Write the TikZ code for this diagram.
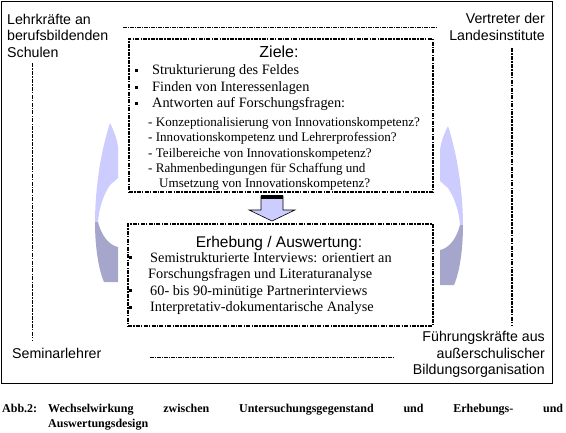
\documentclass[tikz,border=0pt]{standalone}
\usepackage{fontspec}
\setmainfont{Liberation Serif}
\newfontfamily\arialf{Liberation Sans}
\definecolor{lightarrow}{RGB}{204,204,255}
\definecolor{darkarrow}{RGB}{166,166,204}
\tikzset{
 lbl/.style={inner sep=0pt, font=\arialf\fontsize{14.2}{16}\selectfont},
 ttl/.style={inner sep=0pt, anchor=base, font=\arialf\fontsize{16}{18}\selectfont},
 itm/.style={inner sep=0pt, anchor=base west, font=\fontsize{14.3}{16}\selectfont},
 subitm/.style={inner sep=0pt, anchor=base west, font=\fontsize{13.1}{15}\selectfont},
 captxt/.style={inner sep=0pt, anchor=base west, font=\bfseries\fontsize{12}{14}\selectfont},
 ddbox/.style={draw, line width=1.6pt, dash pattern=on 4pt off 1.2pt on 1.5pt off 1.2pt, inner sep=0pt, anchor=north west},
 ddvline/.style={line width=1.6pt, dash pattern=on 4pt off 1.2pt on 1.5pt off 1.2pt},
 thinline/.style={line width=0.8pt, dash pattern=on 4pt off 1pt on 1pt off 1pt},
 bul/.style={fill=black, inner sep=0pt, minimum size=3pt},
 outerframe/.style={draw, line width=0.9pt, inner sep=0pt, anchor=north west},
 curvearrow/.pic={
  \fill[lightarrow] (110,123) .. controls (114,131) and (117,139) .. (118,147) -- (118,178) -- (110,185) .. controls (104,194) and (99,207) .. (98,222) -- (95,222) .. controls (95,200) and (98,160) .. cycle;
  \fill[darkarrow] (95,222) -- (98,222) .. controls (101,234) and (108,245) .. (118,247) -- (118,282) -- (104,282) .. controls (98,268) and (95,245) .. cycle;
 },
}
\begin{document}
\begin{tikzpicture}[x=1pt,y=-1pt]
\useasboundingbox (0,0) rectangle (566,432);
% outer frame
\node[outerframe, minimum width=551pt, minimum height=382pt] (frame) at (1,1) {};
% boxes
\node[ddbox, minimum width=304pt, minimum height=153pt] (ziele) at (128,38) {};
\node[ddbox, minimum width=305pt, minimum height=102pt] (erheb) at (127,223) {};
% lines
\coordinate (tl1) at (123,27); \coordinate (tl2) at (437,27);
\coordinate (bl1) at (150,357); \coordinate (bl2) at (395,357);
\coordinate (lv1) at (32.5,63); \coordinate (lv2) at (32.5,341);
\coordinate (rv1) at (512,48); \coordinate (rv2) at (512,325);
\draw[thinline] (tl1) -- (tl2);
\draw[thinline] (bl1) -- (bl2);
\draw[ddvline] (lv1) -- (lv2);
\draw[ddvline] (rv1) -- (rv2);
% corner labels
\node[lbl, anchor=base west] (l1) at (7,24) {Lehrkräfte an};
\node[lbl, anchor=base west] (l2) at (7,40) {berufsbildenden};
\node[lbl, anchor=base west] (l3) at (7,57) {Schulen};
\node[lbl, anchor=base east] (r1) at (545,23) {Vertreter der};
\node[lbl, anchor=base east] (r2) at (545,40) {Landesinstitute};
\node[lbl, anchor=base west] (s1) at (12,358) {Seminarlehrer};
\node[lbl, anchor=base east] (f1) at (545,341) {Führungskräfte aus};
\node[lbl, anchor=base east] (f2) at (545,358) {außerschulischer};
\node[lbl, anchor=base east] (f3) at (545,374) {Bildungsorganisation};
% Ziele content
\node[ttl] (zt) at (279,57) {Ziele:};
\node[bul] (zb1) at (136,70) {};
\node[bul] (zb2) at (136,87) {};
\node[bul] (zb3) at (136,103) {};
\node[itm] (z1) at (152,74) {Strukturierung des Feldes};
\node[itm] (z2) at (152,91) {Finden von Interessenlagen};
\node[itm] (z3) at (152,107) {Antworten auf Forschungsfragen:};
\node[subitm] (z4) at (148,126) {- Konzeptionalisierung von Innovationskompetenz?};
\node[subitm] (z5) at (148,141) {- Innovationskompetenz und Lehrerprofession?};
\node[subitm] (z6) at (148,157) {- Teilbereiche von Innovationskompetenz?};
\node[subitm] (z7) at (148,172) {- Rahmenbedingungen für Schaffung und};
\node[subitm] (z8) at (159,187) {Umsetzung von Innovationskompetenz?};
% Erhebung content
\node[ttl, font=\arialf\fontsize{15.5}{18}\selectfont] (et) at (279,247.5) {Erhebung / Auswertung:};
\node[bul] (eb1) at (130,257) {};
\node[bul] (eb2) at (130,290) {};
\node[bul] (eb3) at (130,307) {};
\node[itm] (e1) at (150,262) {Semistrukturierte Interviews: orientiert an};
\node[itm] (e2) at (148,278) {Forschungsfragen und Literaturanalyse};
\node[itm] (e3) at (150,295) {60- bis 90-minütige Partnerinterviews};
\node[itm] (e4) at (150,311) {Interpretativ-dokumentarische Analyse};
% down arrow
\filldraw[fill=lightarrow, draw=black, line width=0.6pt] (261,196) -- (283,196) -- (283,210) -- (295,210) -- (272,221) -- (249,210) -- (261,210) -- cycle;
\fill (261,195) rectangle (283,198.5);
% curved arrows
\pic (leftarrow) at (0,0) {curvearrow};
\pic[xshift=558pt, yshift=-3pt, xscale=-1] (rightarrow) at (0,0) {curvearrow};
% caption
\node[captxt] (c1) at (2,412) {Abb.2:};
\node[captxt] (c2) at (48,412) {\makebox[515pt]{Wechselwirkung\hfill zwischen\hfill Untersuchungsgegenstand\hfill und\hfill Erhebungs-\hfill und}};
\node[captxt] (c3) at (48,427) {Auswertungsdesign};
\end{tikzpicture}
\end{document}
